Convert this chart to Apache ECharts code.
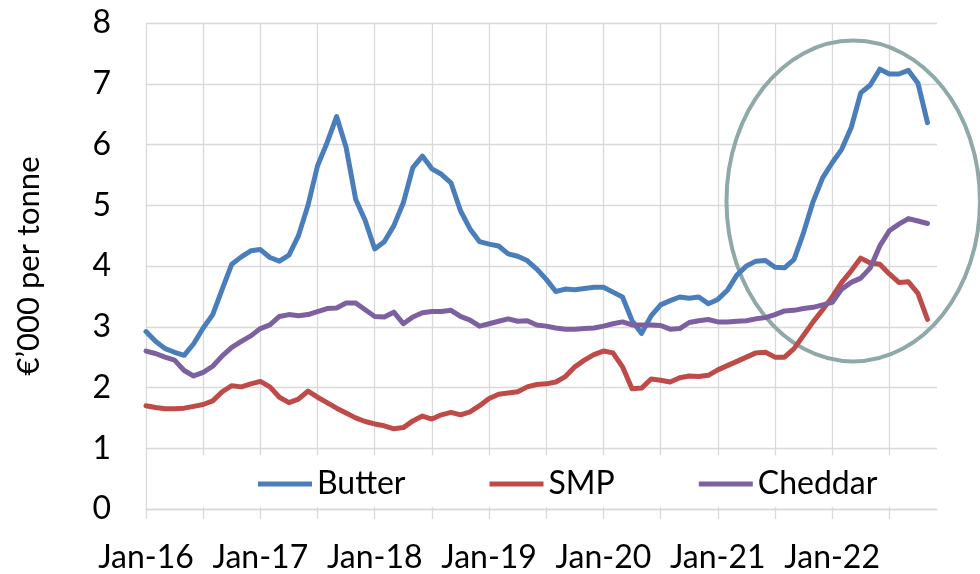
<!DOCTYPE html>
<html><head><meta charset="utf-8">
<script src="https://cdn.jsdelivr.net/npm/echarts@6/dist/echarts.min.js"></script>
<style>html,body{margin:0;padding:0;background:#fff}#c{width:980px;height:574px}</style>
</head><body><div id="c"></div>
<script>
const months = [
 'Jan-16','Feb-16','Mar-16','Apr-16','May-16','Jun-16','Jul-16','Aug-16','Sep-16','Oct-16','Nov-16','Dec-16',
 'Jan-17','Feb-17','Mar-17','Apr-17','May-17','Jun-17','Jul-17','Aug-17','Sep-17','Oct-17','Nov-17','Dec-17',
 'Jan-18','Feb-18','Mar-18','Apr-18','May-18','Jun-18','Jul-18','Aug-18','Sep-18','Oct-18','Nov-18','Dec-18',
 'Jan-19','Feb-19','Mar-19','Apr-19','May-19','Jun-19','Jul-19','Aug-19','Sep-19','Oct-19','Nov-19','Dec-19',
 'Jan-20','Feb-20','Mar-20','Apr-20','May-20','Jun-20','Jul-20','Aug-20','Sep-20','Oct-20','Nov-20','Dec-20',
 'Jan-21','Feb-21','Mar-21','Apr-21','May-21','Jun-21','Jul-21','Aug-21','Sep-21','Oct-21','Nov-21','Dec-21',
 'Jan-22','Feb-22','Mar-22','Apr-22','May-22','Jun-22','Jul-22','Aug-22','Sep-22','Oct-22','Nov-22','Dec-22'
];
const butter = [
 2.92,2.76,2.64,2.58,2.53,2.72,2.98,3.20,3.62,4.03,4.15,4.25,
 4.27,4.14,4.08,4.18,4.50,5.00,5.65,6.03,6.46,5.95,5.10,4.75,
 4.28,4.40,4.66,5.04,5.62,5.81,5.60,5.51,5.37,4.91,4.61,4.40,
 4.36,4.33,4.20,4.16,4.09,3.95,3.78,3.58,3.62,3.61,3.63,3.65,
 3.65,3.57,3.49,3.10,2.89,3.18,3.36,3.43,3.49,3.47,3.49,3.38,
 3.45,3.60,3.85,4.00,4.08,4.09,3.98,3.97,4.11,4.55,5.06,5.45,
 5.70,5.92,6.28,6.85,6.98,7.24,7.16,7.16,7.22,7.01,6.36
];
const smp = [
 1.70,1.67,1.65,1.65,1.66,1.69,1.72,1.78,1.93,2.03,2.01,2.06,
 2.10,2.01,1.84,1.75,1.81,1.94,1.84,1.75,1.66,1.58,1.50,1.44,
 1.40,1.37,1.32,1.34,1.45,1.53,1.48,1.55,1.59,1.55,1.60,1.70,
 1.82,1.89,1.91,1.93,2.01,2.05,2.06,2.09,2.18,2.34,2.45,2.54,
 2.60,2.57,2.34,1.98,1.99,2.14,2.12,2.09,2.16,2.19,2.18,2.20,
 2.29,2.36,2.43,2.50,2.57,2.58,2.50,2.50,2.64,2.86,3.08,3.28,
 3.49,3.73,3.92,4.13,4.05,4.03,3.87,3.73,3.74,3.55,3.12
];
const cheddar = [
 2.60,2.56,2.50,2.45,2.28,2.19,2.25,2.35,2.52,2.66,2.76,2.85,
 2.97,3.03,3.17,3.20,3.18,3.20,3.25,3.30,3.31,3.39,3.39,3.28,
 3.17,3.16,3.24,3.05,3.16,3.23,3.25,3.25,3.27,3.17,3.11,3.01,
 3.05,3.09,3.13,3.09,3.10,3.03,3.01,2.98,2.96,2.96,2.97,2.98,
 3.01,3.05,3.08,3.03,3.03,3.03,3.02,2.96,2.97,3.07,3.10,3.12,
 3.08,3.08,3.09,3.10,3.13,3.15,3.20,3.26,3.27,3.30,3.32,3.36,
 3.40,3.62,3.73,3.80,3.97,4.33,4.58,4.69,4.78,4.74,4.70
];
const seriesNames = ['Butter','SMP','Cheddar'];
const seriesColors = ['#4A7EBB','#BE4B48','#7D60A0'];
const yAxisTitle = '€’000 per tonne';
// highlighted region (ellipse annotation) in data units
const highlight = {month:'Mar-22', value:5.07, halfMonths:13.3, halfValue:2.64};

const FONT = 'Lato';
const chart = echarts.init(document.getElementById('c'), null, {renderer:'canvas'});
const gridColor = '#D9D9D9';
const data = [butter, smp, cheddar];
chart.setOption({
  animation:false,
  backgroundColor:'#fff',
  textStyle:{fontFamily:FONT},
  grid:{left:146,right:43,top:23,bottom:63,containLabel:false},
  xAxis:{
    type:'category', data:months, boundaryGap:false,
    axisLine:{show:true,lineStyle:{color:gridColor,width:1.3}},
    axisTick:{show:true,interval:5,length:10,lineStyle:{color:gridColor,width:1.3}},
    splitLine:{show:true,interval:5,lineStyle:{color:gridColor,width:1.3}},
    axisLabel:{interval:11,color:'#000',fontSize:32,fontFamily:FONT,margin:33}
  },
  yAxis:{
    type:'value', min:0, max:8, interval:1,
    name:yAxisTitle, nameLocation:'middle', nameGap:102, nameRotate:90,
    nameTextStyle:{color:'#000',fontSize:31,fontFamily:FONT},
    axisLine:{show:false}, axisTick:{show:false},
    splitLine:{show:true,lineStyle:{color:gridColor,width:1.3}},
    axisLabel:{color:'#000',fontSize:32,fontFamily:FONT,margin:35}
  },
  legend:{
    show:true, left:253, top:463, itemWidth:54, itemHeight:5, itemGap:84, icon:'rect',
    textStyle:{color:'#000',fontSize:32,fontFamily:FONT}, z:6,
    data:seriesNames
  },
  series: seriesNames.map((n,i)=>({
    name:n, type:'line', data:data[i], showSymbol:false, symbol:'none', z:3,
    lineStyle:{color:seriesColors[i],width:5,join:'round',cap:'round'},
    itemStyle:{color:seriesColors[i]}
  }))
});
const c0 = chart.convertToPixel({xAxisIndex:0,yAxisIndex:0},[months.indexOf(highlight.month),highlight.value]);
const c1 = chart.convertToPixel({xAxisIndex:0,yAxisIndex:0},[months.indexOf(highlight.month),highlight.value+highlight.halfValue]);
const step = chart.convertToPixel({xAxisIndex:0},1) - chart.convertToPixel({xAxisIndex:0},0);
const b0 = chart.convertToPixel({yAxisIndex:0},0);
const b1 = chart.convertToPixel({yAxisIndex:0},0.88);
const xl = chart.convertToPixel({xAxisIndex:0},0);
const xr = chart.convertToPixel({xAxisIndex:0},months.length-1);
chart.setOption({graphic:[
  {type:'rect', id:'legendBg', z:2, silent:true,
   shape:{x:xl+1,y:b1,width:xr-xl-1,height:b0-b1-2}, style:{fill:'#fff'}},
  {type:'ellipse', id:'hl', z:2, silent:true,
   shape:{cx:c0[0]+2,cy:c0[1],rx:highlight.halfMonths*step,ry:c0[1]-c1[1]},
   style:{fill:'none',stroke:'#8EA9A8',lineWidth:4}}
]});
</script></body></html>
